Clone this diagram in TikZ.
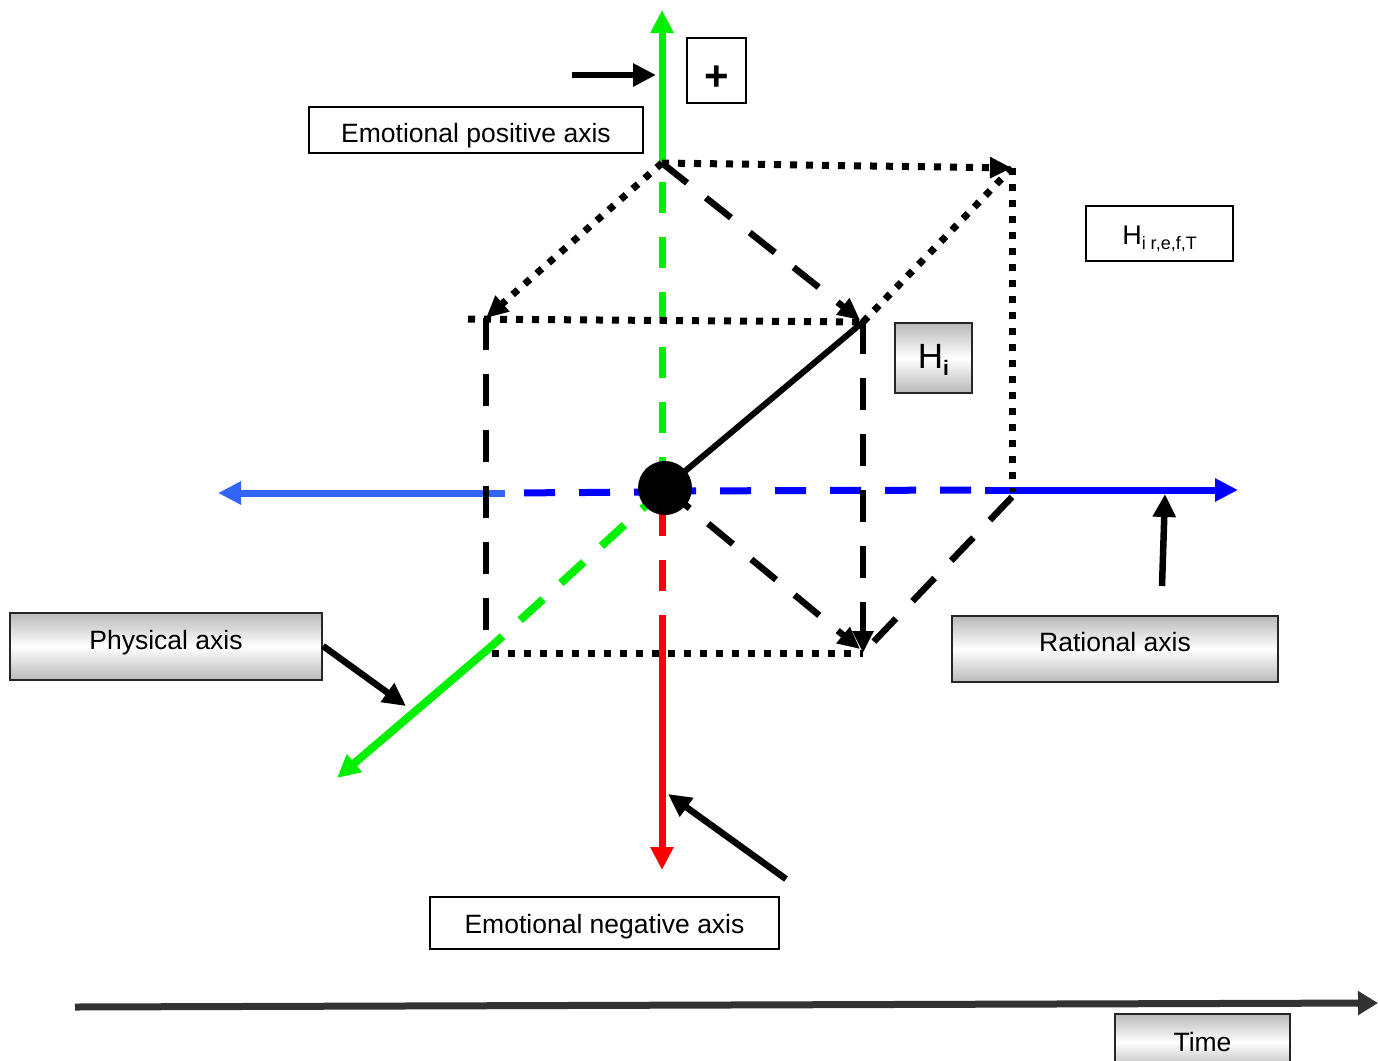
\documentclass[tikz,border=0pt]{standalone}
\usepackage{fontspec}
\setmainfont{Liberation Sans}
\usetikzlibrary{arrows.meta}
\definecolor{axgreen}{RGB}{0,240,0}
\definecolor{axred}{RGB}{255,0,0}
\definecolor{axblue}{RGB}{0,0,255}
\definecolor{axlblue}{RGB}{50,100,245}
\definecolor{timegray}{RGB}{50,50,50}
\newcommand{\lowtext}[2]{\raisebox{#1}[0pt][0pt]{#2}}
\begin{document}
\begin{tikzpicture}[x=1pt,y=-1pt,
  lbl/.style={font=\fontsize{26.5}{30}\selectfont},
  whitebox/.style={draw=black,line width=1.3pt,fill=white,inner sep=0pt,lbl},
  shadebox/.style={draw=black!85,line width=2pt,inner sep=0pt,lbl,
     top color=gray!55,bottom color=gray!55,middle color=white},
  tipbig/.style={-{Triangle[length=23pt,width=22pt]}},
  tipmid/.style={-{Triangle[length=22pt,width=20pt]}},
  axdash/.style={line width=7pt,dash pattern=on 31pt off 24pt},
  cubedash/.style={line width=6.5pt,black,dash pattern=on 32pt off 24pt},
  cubedot/.style={line width=7pt,black,dash pattern=on 7pt off 9pt},
  note/.style={line width=6.5pt,black,tipbig}
]
\useasboundingbox (0,0) rectangle (1378,1060);

% cube corners and axis points
\coordinate (A) at (662,163);
\coordinate (B) at (1012,168);
\coordinate (C) at (486,318);
\coordinate (Cl) at (468,319);
\coordinate (D) at (863,322);
\coordinate (Dt) at (860,320);
\coordinate (E) at (487,653);
\coordinate (Ev) at (486,640);
\coordinate (El) at (492,653);
\coordinate (F) at (863,653);
\coordinate (Ft) at (860,649);
\coordinate (G) at (1012,492);
\coordinate (Gd) at (1012,497);
\coordinate (O) at (665,488);
\coordinate (Otop) at (662,488);
\coordinate (Ored) at (662,488);
\coordinate (Rs) at (662,617);
\coordinate (Rtip) at (662,870);
\coordinate (Ttop) at (662,10);
\coordinate (Lb) at (505,493);
\coordinate (Lbd) at (665,492);
\coordinate (Ltip) at (218,493);
\coordinate (Rbd) at (665,491);
\coordinate (Rb) at (985,490);
\coordinate (Rtipb) at (1238,490);
\coordinate (Gs) at (494,644);
\coordinate (Gtip) at (337,778);

% green vertical axis
\draw[axdash,axgreen] (Otop) -- (A);
\draw[line width=7pt,axgreen,tipbig] (A) -- (Ttop);
% red axis
\draw[axdash,axred,dash phase=38pt] (Ored) -- (Rs);
\draw[line width=7pt,axred,tipbig] (Rs) -- (Rtip);
% blue axis
\draw[axdash,axblue] (Lbd) -- (Lb);
\draw[line width=7pt,axlblue,tipbig] (Lb) -- (Ltip);
\draw[axdash,axblue] (Rbd) -- (Rb);
\draw[line width=7pt,axblue,tipbig] (Rb) -- (Rtipb);
% green diagonal axis
\draw[axdash,axgreen,line width=8pt] (O) -- (Gs);
\draw[line width=8pt,axgreen,tipbig] (Gs) -- (Gtip);

% cube dotted edges
\draw[cubedot,tipmid] (A) -- (B);
\draw[cubedot,tipmid] (A) -- (C);
\draw[cubedot] (D) -- (B);
\draw[cubedot] (B) -- (G);
\draw[cubedot] (Cl) -- (D);
\draw[cubedot] (El) -- (F);
% cube dashed edges
\draw[cubedash] (C) -- (Ev);
\draw[cubedash,tipmid] (D) -- (F);
\draw[cubedash,tipmid] (A) -- (Dt);
\draw[cubedash,tipmid] (O) -- (Ft);
\draw[cubedash] (Gd) -- (F);
% vector to H_i
\draw[line width=6pt,black] (O) -- (D);
% origin dot
\node[circle,fill=black,minimum size=54pt,inner sep=0pt] (dot) at (O) {};

% labels
\node[whitebox,minimum width=59pt,minimum height=65pt] (plus) at (716.5,70.5)
   {\lowtext{-19.5pt}{\fontsize{42}{44}\selectfont\bfseries +}};
\node[whitebox,minimum width=334pt,minimum height=46pt] (pos) at (476,130)
   {\lowtext{-12pt}{Emotional positive axis}};
\node[whitebox,minimum width=147pt,minimum height=55pt] (href) at (1159.5,233.5)
   {\lowtext{-10.5pt}{\fontsize{27}{30}\selectfont H\raisebox{-5pt}{\fontsize{18}{19}\selectfont i r,e,f,T}}};
\node[shadebox,minimum width=77pt,minimum height=70pt] (hi) at (933.5,358)
   {\lowtext{-10pt}{\fontsize{35}{38}\selectfont H\raisebox{-7pt}{\fontsize{21}{22}\selectfont\bfseries i}}};
\node[shadebox,minimum width=312pt,minimum height=67pt] (phys) at (166,646.5)
   {\lowtext{-3pt}{Physical axis}};
\node[shadebox,minimum width=326pt,minimum height=66pt] (rat) at (1115,649)
   {\lowtext{-2.5pt}{Rational axis}};
\node[whitebox,minimum width=349pt,minimum height=52pt] (neg) at (604.5,923)
   {\lowtext{-10pt}{Emotional negative axis}};
\node[shadebox,minimum width=175pt,minimum height=56pt] (time) at (1202.5,1042)
   {\lowtext{-9.5pt}{Time}};

% annotation arrows
\coordinate (n1s) at (572,75);
\coordinate (n1e) at (656,75);
\draw[note] (n1s) -- (n1e);
\coordinate (n2s) at (1162,586);
\coordinate (n2e) at (1165,494);
\draw[note] (n2s) -- (n2e);
\coordinate (n3s) at (323,646);
\coordinate (n3e) at (406,706);
\draw[note] (n3s) -- (n3e);
\coordinate (n4s) at (786,879);
\coordinate (n4e) at (668,794);
\draw[note] (n4s) -- (n4e);

% time axis
\coordinate (t0) at (75,1007);
\coordinate (t1) at (1378,1003);
\draw[line width=7pt,timegray,-{Triangle[length=20pt,width=23pt]}] (t0) -- (t1);
\end{tikzpicture}
\end{document}
